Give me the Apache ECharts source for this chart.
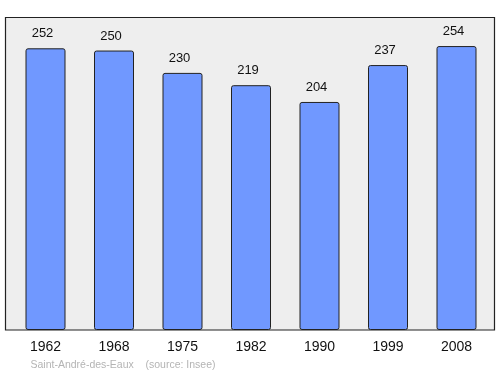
<!DOCTYPE html>
<html>
<head>
<meta charset="utf-8">
<script src="https://cdn.jsdelivr.net/npm/echarts@6/dist/echarts.min.js"></script>
<style>html,body{margin:0;padding:0;background:#fff}#c{width:500px;height:374px}</style>
</head>
<body>
<div id="c"></div>
<script>
const categories = ['1962', '1968', '1975', '1982', '1990', '1999', '2008'];
const population = [252, 250, 230, 219, 204, 237, 254];
const sourceText = 'Saint-André-des-Eaux    (source: Insee)';

const chart = echarts.init(document.getElementById('c'), null, {renderer: 'canvas'});
chart.setOption({
  animation: false,
  backgroundColor: '#ffffff',
  graphic: [
    {type: 'rect', z: -10, shape: {x: 5.5, y: 17.5, width: 489, height: 312.5},
     style: {fill: '#eeeeee', stroke: '#222222', lineWidth: 1.2}},
    {type: 'text', left: 30.5, top: 359.5,
     style: {text: sourceText, fill: '#b4b4b4', fontSize: 10.5, fontFamily: 'Liberation Sans, Arial, sans-serif'}}
  ],
  grid: {left: 11.25, right: 9.25, top: 17, bottom: 44},
  xAxis: {
    type: 'category', data: categories,
    axisLine: {show: false}, axisTick: {show: false},
    axisLabel: {color: '#111', fontSize: 14, margin: 10, fontFamily: 'Liberation Sans, Arial, sans-serif'}
  },
  yAxis: {type: 'value', min: 0, max: 280, show: false, splitLine: {show: false}},
  series: [{
    type: 'bar', data: population, barWidth: 40,
    itemStyle: {color: '#7098ff', borderColor: '#222', borderWidth: 1, borderRadius: 2},
    label: {show: true, position: 'top', distance: 8, offset: [-3, 0], color: '#111', fontSize: 13,
            fontFamily: 'Liberation Sans, Arial, sans-serif'}
  }]
});
</script>
</body>
</html>
